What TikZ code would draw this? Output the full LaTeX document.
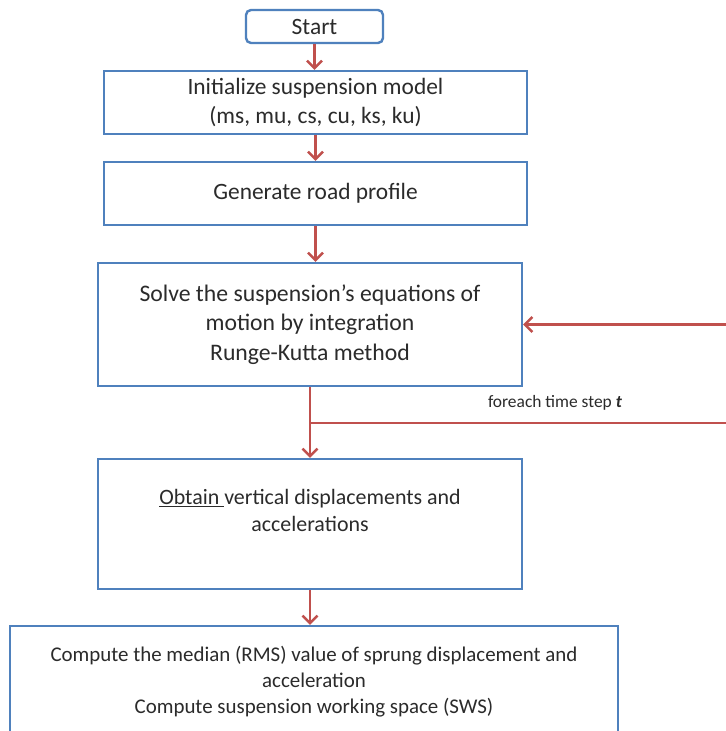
\documentclass[tikz,border=0pt]{standalone}
\usepackage{fontspec}
\setmainfont{Carlito}
\usetikzlibrary{arrows.meta,calc}
\definecolor{boxblue}{HTML}{4F81BD}
\definecolor{arrred}{HTML}{C0504D}
\definecolor{txt}{HTML}{2B2B2B}
\begin{document}
\begin{tikzpicture}[x=1bp,y=-1bp,
  box/.style={draw=boxblue,line width=2.4bp,fill=white,inner sep=0pt,align=center,text=txt},
  bigtext/.style={font=\fontsize{23.5}{29.5}\selectfont},
  flow/.style={draw=arrred,line width=2.6bp,-{Straight Barb[length=7.5bp,width=15bp,line width=2.4bp]}},
  loopline/.style={draw=arrred,line width=2.6bp}]
\clip (0,0) rectangle (726,731);
\fill[white] (0,0) rectangle (726,731);
\node[box,bigtext,rounded corners=5bp,minimum width=137bp,minimum height=33bp] (start) at (314.5,26.5) {Start};
\node[box,bigtext,minimum width=423bp,minimum height=63bp] (init) at (315.5,102.5) {Initialize suspension model\\(ms, mu, cs, cu, ks, ku)};
\node[box,bigtext,minimum width=423bp,minimum height=63bp] (gen) at (315.5,193.5) {Generate road profile};
\node[box,font=\fontsize{23.8}{29.5}\selectfont,minimum width=424bp,minimum height=123bp] (solve) at (310,324.5) {Solve the suspension’s equations of\\motion by integration\\Runge-Kutta method};
\node[box,font=\fontsize{22}{27.5}\selectfont,minimum width=424bp,minimum height=130bp] (obtain) at (310,524) {\underline{Obtain\ }vertical displacements and\\accelerations\\\mbox{}};
\node[box,font=\fontsize{21}{26}\selectfont,minimum width=608bp,minimum height=112bp] (compute) at (314,682) {Compute the median (RMS) value of sprung displacement and\\acceleration\\Compute suspension working space (SWS)};
\coordinate (split) at ($(solve.south)+(0,37)$);
\coordinate (r1) at (726,423);
\coordinate (r2) at (726,324.5);
\node[font=\fontsize{17.5}{20}\selectfont,text=txt] (lbl) at (555,403) {foreach time step \textbf{\textit{t}}};
\draw[flow] (start.south) -- (start.south |- init.north);
\draw[flow] (init.south) -- (init.south |- gen.north);
\draw[flow] (gen.south) -- (gen.south |- solve.north);
\draw[flow] (solve.south) -- (obtain.north);
\draw[loopline] (split |- r1) -- (r1);
\draw[flow] (r2) -- (solve.east);
\draw[flow] (obtain.south) -- (obtain.south |- compute.north);
\end{tikzpicture}
\end{document}
